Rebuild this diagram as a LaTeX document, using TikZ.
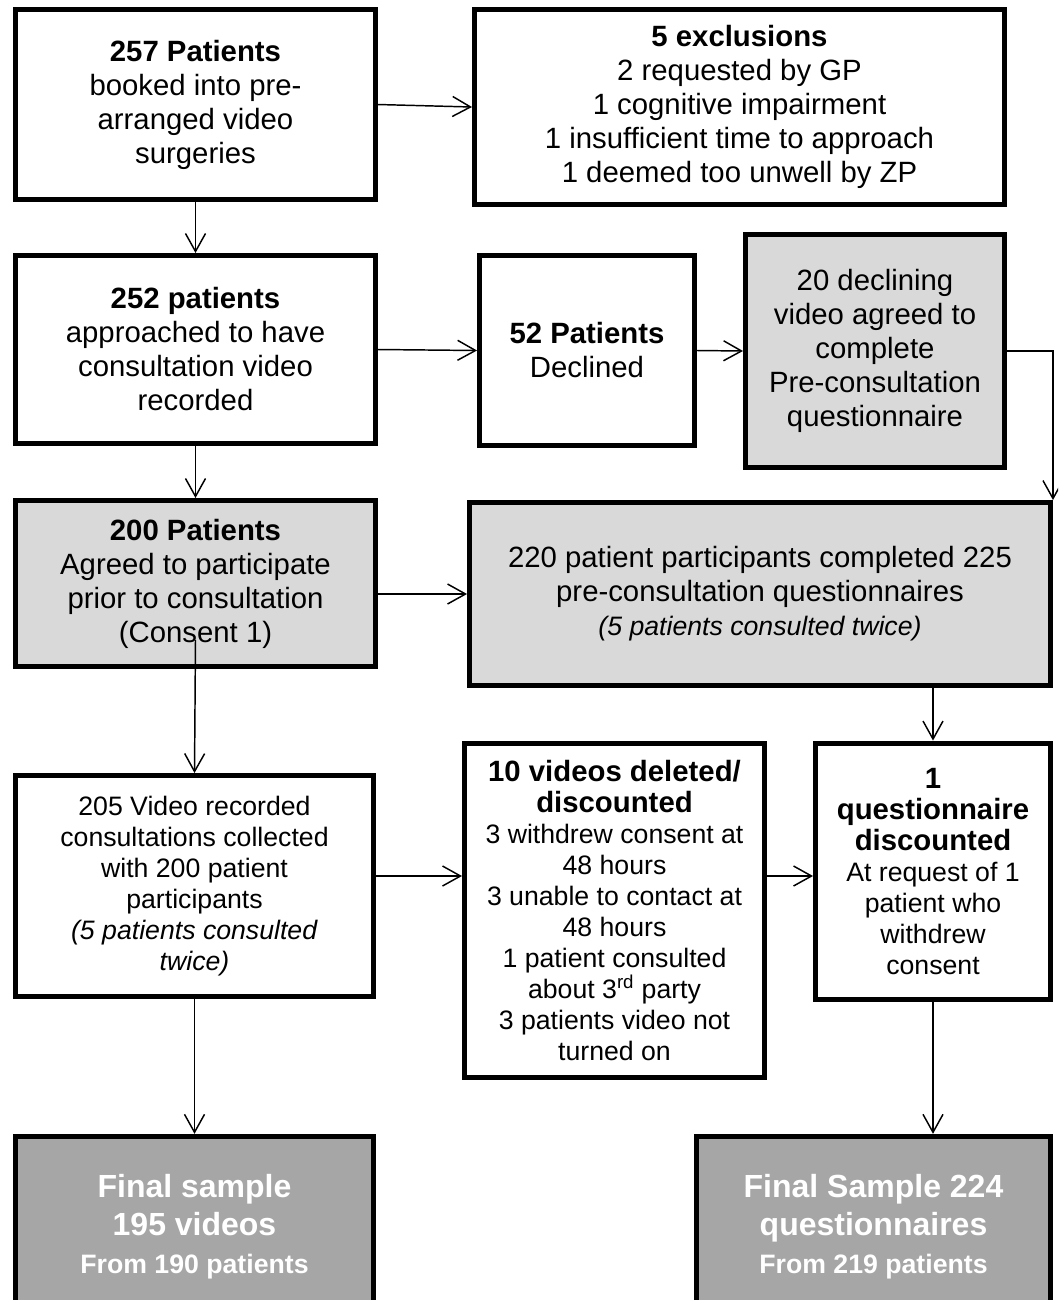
\documentclass[tikz,border=0pt]{standalone}
\usepackage{fontspec}
\setmainfont{Liberation Sans}
\usetikzlibrary{arrows.meta,calc}
\definecolor{lgray}{HTML}{D9D9D9}
\definecolor{dgray}{HTML}{A6A6A6}
\begin{document}
\begin{tikzpicture}[x=0.75pt,y=-0.75pt,
  box/.style={draw=black, line width=3.75pt, align=center, inner sep=0pt,
    font=\fontsize{22}{25.5}\selectfont},
  smallbox/.style={box, font=\fontsize{20}{23.3}\selectfont},
  light/.style={fill=lgray},
  dark/.style={fill=dgray, text=white},
  arr/.style={draw=black, line width=1.1pt, -{Straight Barb[length=13.5pt,width=15pt]}}]
\useasboundingbox (0,0) rectangle (1058,1300);
\fill[white] (0,0) rectangle (1058,1300);
\clip (0,0) rectangle (1058,1300);

\node[box, minimum width=269.3pt, minimum height=142.6pt] (b1) at (195.5,104.5)
  {\textbf{257 Patients}\\booked into pre-\\arranged video\\surgeries};
\node[box, minimum width=397.5pt, minimum height=146.2pt] (b2) at (739.5,107)
  {\textbf{5 exclusions}\\2 requested by GP\\1 cognitive impairment\\1 insufficient time to approach\\1 deemed too unwell by ZP};
\node[box, minimum width=269.3pt, minimum height=141pt] (b3) at (195.5,349.5)
  {\textbf{252 patients}\\approached to have\\consultation video\\recorded};
\node[box, minimum width=161.2pt, minimum height=142.6pt] (b4) at (587,350.5)
  {\textbf{52 Patients}\\Declined};
\node[box, light, minimum width=194.2pt, minimum height=174.7pt] (b5) at (875,351)
  {20 declining\\video agreed to\\complete\\Pre-consultation\\questionnaire};
\node[box, light, minimum width=270pt, minimum height=124.5pt] (b6) at (195.5,583.5)
  {\textbf{200 Patients}\\Agreed to participate\\prior to consultation\\(Consent 1)};
\node[box, light, minimum width=435.7pt, minimum height=137.2pt] (b7) at (760,594)
  {220 patient participants completed 225\\pre-consultation questionnaires\\{\fontsize{20}{23.3}\selectfont\itshape (5 patients consulted twice)}};
\node[smallbox, minimum width=268.5pt, minimum height=165.7pt] (b8) at (194.5,886)
  {205 Video recorded\\consultations collected\\with 200 patient\\participants\\\textit{(5 patients consulted}\\\textit{twice)}};
\node[smallbox, minimum width=225pt, minimum height=251.2pt] (b9) at (614.5,910.5)
  {{\fontsize{22}{24.75}\selectfont\bfseries 10 videos deleted/}\\{\fontsize{22}{24.75}\selectfont\bfseries discounted}\\3 withdrew consent at\\48 hours\\3 unable to contact at\\48 hours\\1 patient consulted\\about 3\textsuperscript{rd} party\\3 patients video not\\turned on};
\node[smallbox, minimum width=176.2pt, minimum height=192.7pt] (b10) at (933,871.5)
  {{\fontsize{22}{24.75}\selectfont\bfseries 1}\\{\fontsize{22}{24.75}\selectfont\bfseries questionnaire}\\{\fontsize{22}{24.75}\selectfont\bfseries discounted}\\At request of 1\\patient who\\withdrew\\consent};
\node[box, dark, minimum width=268.5pt, minimum height=136pt, font=\fontsize{24}{28.5}\selectfont\bfseries] (b11) at (194.5,1227)
  {Final sample\\195 videos\\{\fontsize{20}{24}\selectfont From 190 patients}};
\node[box, dark, minimum width=265.5pt, minimum height=136pt, font=\fontsize{24}{28.5}\selectfont\bfseries] (b12) at (873.5,1227)
  {Final Sample 224\\questionnaires\\{\fontsize{20}{24}\selectfont From 219 patients}};

\coordinate (m) at (0,876);

\draw[arr] (b1.east) -- (b2.west);
\draw[arr] (b1.south) -- (b3.north);
\draw[arr] (b3.east) -- (b4.west);
\draw[arr] (b4.east) -- (b5.west);
\draw[arr] (b5.east) -| (b7.north east);
\draw[arr] (b3.south) -- (b6.north);
\draw[arr] (b6.east |- b7.west) -- (b7.west);
\draw[arr] ([yshift=21.75pt]b6.south) -- (b8.north);
\draw[arr] (b7.south -| b10.north) -- (b10.north);
\draw[arr] (b8.east |- m) -- (b9.west |- m);
\draw[arr] (b9.east |- m) -- (b10.west |- m);
\draw[arr] (b8.south) -- (b11.north);
\draw[arr] (b10.south) -- (b10.south |- b12.north);
\end{tikzpicture}
\end{document}
